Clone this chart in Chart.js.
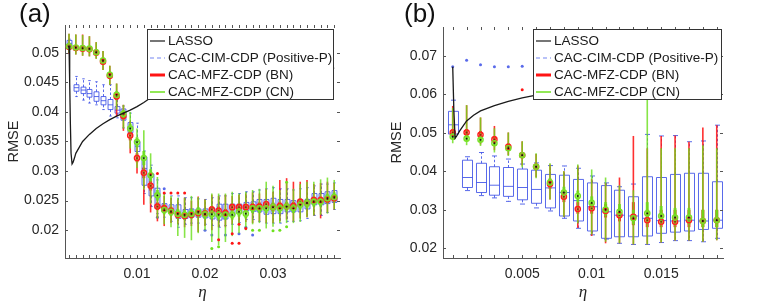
<!DOCTYPE html>
<html>
<head>
<meta charset="utf-8">
<script src="https://cdn.jsdelivr.net/npm/chart.js@4.4.1/dist/chart.umd.min.js"></script>
<style>
  body { margin: 0; background: #fff; width: 763px; height: 304px; position: relative; overflow: hidden; font-family: "Liberation Sans", Arial, sans-serif; }
  .panel { position: absolute; top: 0; }
  .panel canvas { display: block; }
  .tag { position: absolute; top: -2px; font-size: 26px; color: #111; }
</style>
</head>
<body>
<div class="panel" style="left:0"><canvas id="chartA" width="380" height="304"></canvas></div>
<div class="panel" style="left:380px"><canvas id="chartB" width="383" height="304"></canvas></div>
<div class="tag" style="left:19px">(a)</div>
<div class="tag" style="left:404px">(b)</div>
<script>
// ---- data ----
const legendLabels = ['LASSO', 'CAC-CIM-CDP (Positive-P)', 'CAC-MFZ-CDP (BN)', 'CAC-MFZ-CDP (CN)'];

// panel (a): eta positions of the boxes
const etaA = [0.000, 0.001, 0.002, 0.003, 0.004, 0.005, 0.006, 0.007, 0.008, 0.009,
              0.010, 0.011, 0.012, 0.013, 0.014, 0.015, 0.016, 0.017, 0.018, 0.019,
              0.020, 0.021, 0.022, 0.023, 0.024, 0.025, 0.026, 0.027, 0.028, 0.029,
              0.030, 0.031, 0.032, 0.033, 0.034, 0.035, 0.036, 0.037, 0.038, 0.039];

// rows: [lower whisker, q1, median, q3, upper whisker]
const cimA = [
  [0.0508,0.0511,0.0516,0.0521,0.0523],[0.0426,0.0435,0.0441,0.0446,0.0460],[0.0420,0.0431,0.0437,0.0442,0.0456],
  [0.0415,0.0425,0.0431,0.0438,0.0453],[0.0412,0.0418,0.0426,0.0434,0.0451],[0.0404,0.0412,0.0419,0.0426,0.0446],
  [0.0393,0.0404,0.0412,0.0421,0.0446],[0.0390,0.0398,0.0403,0.0409,0.0430],[0.0373,0.0386,0.0396,0.0405,0.0410],
  [0.0353,0.0365,0.0373,0.0382,0.0398],[0.0319,0.0333,0.0342,0.0350,0.0381],[0.0262,0.0276,0.0304,0.0324,0.0334],
  [0.0240,0.0258,0.0272,0.0295,0.0310],[0.0228,0.0237,0.0255,0.0271,0.0285],[0.0222,0.0231,0.0238,0.0245,0.0262],
  [0.0215,0.0228,0.0234,0.0243,0.0258],[0.0205,0.0220,0.0230,0.0243,0.0258],[0.0210,0.0220,0.0228,0.0235,0.0255],
  [0.0212,0.0222,0.0229,0.0236,0.0255],[0.0212,0.0222,0.0231,0.0236,0.0253],[0.0210,0.0221,0.0229,0.0236,0.0252],
  [0.0208,0.0219,0.0232,0.0237,0.0255],[0.0205,0.0217,0.0230,0.0244,0.0258],[0.0208,0.0219,0.0230,0.0244,0.0258],
  [0.0210,0.0225,0.0235,0.0244,0.0262],[0.0213,0.0229,0.0238,0.0244,0.0262],[0.0218,0.0233,0.0239,0.0247,0.0265],
  [0.0218,0.0232,0.0237,0.0248,0.0265],[0.0215,0.0231,0.0239,0.0252,0.0268],[0.0212,0.0227,0.0240,0.0252,0.0270],
  [0.0212,0.0228,0.0240,0.0254,0.0272],[0.0212,0.0228,0.0240,0.0252,0.0270],[0.0215,0.0231,0.0240,0.0252,0.0270],
  [0.0215,0.0231,0.0240,0.0250,0.0268],[0.0216,0.0231,0.0243,0.0252,0.0270],[0.0220,0.0236,0.0245,0.0252,0.0272],
  [0.0225,0.0243,0.0250,0.0262,0.0275],[0.0225,0.0243,0.0250,0.0262,0.0278],[0.0230,0.0245,0.0253,0.0265,0.0278],
  [0.0235,0.0247,0.0255,0.0267,0.0280]
];
const bnA = [
  [0.0498,0.0506,0.0510,0.0514,0.0532],[0.0497,0.0504,0.0508,0.0513,0.0531],[0.0495,0.0503,0.0507,0.0512,0.0531],
  [0.0494,0.0502,0.0506,0.0511,0.0528],[0.0490,0.0496,0.0500,0.0505,0.0518],[0.0471,0.0480,0.0485,0.0490,0.0503],
  [0.0446,0.0456,0.0461,0.0466,0.0478],[0.0392,0.0420,0.0426,0.0432,0.0448],[0.0368,0.0387,0.0393,0.0400,0.0412],
  [0.0330,0.0352,0.0360,0.0368,0.0385],[0.0296,0.0315,0.0322,0.0330,0.0345],[0.0243,0.0288,0.0297,0.0306,0.0320],
  [0.0230,0.0267,0.0275,0.0283,0.0296],[0.0215,0.0234,0.0240,0.0247,0.0260],[0.0207,0.0230,0.0237,0.0244,0.0258],
  [0.0212,0.0227,0.0233,0.0240,0.0255],[0.0210,0.0220,0.0226,0.0233,0.0252],[0.0205,0.0218,0.0224,0.0231,0.0255],
  [0.0207,0.0220,0.0226,0.0232,0.0250],[0.0197,0.0222,0.0229,0.0236,0.0257],[0.0207,0.0222,0.0228,0.0234,0.0252],
  [0.0200,0.0228,0.0235,0.0241,0.0260],[0.0205,0.0227,0.0233,0.0240,0.0258],[0.0205,0.0223,0.0229,0.0236,0.0260],
  [0.0210,0.0232,0.0239,0.0245,0.0258],[0.0213,0.0233,0.0239,0.0245,0.0260],[0.0214,0.0233,0.0239,0.0245,0.0262],
  [0.0212,0.0233,0.0239,0.0246,0.0264],[0.0215,0.0234,0.0240,0.0247,0.0262],[0.0212,0.0237,0.0244,0.0250,0.0270],
  [0.0212,0.0233,0.0239,0.0246,0.0265],[0.0215,0.0234,0.0241,0.0248,0.0285],[0.0218,0.0234,0.0240,0.0247,0.0288],
  [0.0215,0.0235,0.0241,0.0248,0.0282],[0.0220,0.0241,0.0248,0.0254,0.0282],[0.0222,0.0240,0.0246,0.0252,0.0285],
  [0.0225,0.0245,0.0251,0.0257,0.0278],[0.0220,0.0245,0.0251,0.0257,0.0280],[0.0230,0.0246,0.0252,0.0258,0.0282],
  [0.0235,0.0248,0.0254,0.0260,0.0280]
];
const cnA = [
  [0.0500,0.0507,0.0511,0.0515,0.0532],[0.0497,0.0505,0.0509,0.0513,0.0531],[0.0495,0.0504,0.0508,0.0512,0.0530],
  [0.0494,0.0503,0.0507,0.0511,0.0528],[0.0490,0.0497,0.0501,0.0506,0.0518],[0.0471,0.0482,0.0487,0.0492,0.0503],
  [0.0446,0.0458,0.0463,0.0468,0.0478],[0.0404,0.0423,0.0429,0.0435,0.0448],[0.0372,0.0390,0.0397,0.0403,0.0412],
  [0.0338,0.0364,0.0372,0.0380,0.0400],[0.0305,0.0340,0.0349,0.0357,0.0372],[0.0269,0.0310,0.0322,0.0334,0.0369],
  [0.0245,0.0283,0.0293,0.0303,0.0330],[0.0220,0.0250,0.0259,0.0268,0.0290],[0.0210,0.0227,0.0234,0.0241,0.0262],
  [0.0205,0.0224,0.0231,0.0238,0.0258],[0.0190,0.0220,0.0228,0.0236,0.0255],[0.0187,0.0218,0.0226,0.0234,0.0255],
  [0.0183,0.0220,0.0228,0.0236,0.0258],[0.0195,0.0223,0.0231,0.0239,0.0256],[0.0200,0.0219,0.0227,0.0235,0.0252],
  [0.0180,0.0219,0.0227,0.0235,0.0262],[0.0175,0.0218,0.0226,0.0234,0.0262],[0.0180,0.0218,0.0226,0.0234,0.0262],
  [0.0190,0.0218,0.0226,0.0234,0.0265],[0.0195,0.0223,0.0231,0.0239,0.0262],[0.0200,0.0220,0.0228,0.0236,0.0265],
  [0.0210,0.0229,0.0237,0.0245,0.0268],[0.0212,0.0229,0.0237,0.0245,0.0270],[0.0203,0.0229,0.0237,0.0245,0.0282],
  [0.0206,0.0231,0.0239,0.0247,0.0275],[0.0212,0.0229,0.0237,0.0245,0.0268],[0.0212,0.0232,0.0240,0.0248,0.0279],
  [0.0212,0.0229,0.0237,0.0245,0.0270],[0.0214,0.0235,0.0243,0.0251,0.0278],[0.0222,0.0238,0.0246,0.0254,0.0282],
  [0.0225,0.0240,0.0248,0.0256,0.0282],[0.0226,0.0240,0.0248,0.0256,0.0286],[0.0228,0.0246,0.0254,0.0262,0.0289],
  [0.0235,0.0248,0.0256,0.0264,0.0285]
];
// outliers: [eta, rmse]
const cimOutA = [[0.013,0.0222],[0.014,0.0270],[0.020,0.0200],[0.021,0.0192],[0.023,0.0192],[0.025,0.0194],[0.026,0.0205],[0.027,0.0192]];
const bnOutA = [[0.012,0.0296],[0.013,0.0296],[0.014,0.0263],[0.015,0.0263],[0.016,0.0263],[0.017,0.0263],
                [0.022,0.0184],[0.024,0.0194],[0.024,0.0178],[0.025,0.0178],[0.025,0.0210],[0.026,0.0203]];
const cnOutA = [[0.021,0.0169],[0.022,0.0172],[0.027,0.0200],[0.028,0.0200],[0.030,0.0199],[0.031,0.0200],
                [0.032,0.0206],[0.032,0.0281],[0.035,0.0240]];
const lassoEtaA  = [0, 0.0001, 0.0002, 0.0003, 0.00045, 0.0006, 0.0008, 0.001, 0.0015, 0.002, 0.003, 0.004, 0.005,
                    0.006, 0.007, 0.008, 0.009, 0.010, 0.011, 0.012, 0.015, 0.020, 0.025, 0.030, 0.035, 0.039];
const lassoRmseA = [0.0512, 0.0450, 0.0380, 0.0330, 0.0312, 0.0315, 0.0322, 0.0330, 0.0340, 0.0350, 0.0362, 0.0372, 0.0380,
                    0.0387, 0.0393, 0.0398, 0.0403, 0.0409, 0.0416, 0.0424, 0.0436, 0.0448, 0.0457, 0.0464, 0.0470, 0.0474];

// panel (b)
const etaB = [0.000, 0.001, 0.002, 0.003, 0.004, 0.005, 0.006, 0.007, 0.008, 0.009,
              0.010, 0.011, 0.012, 0.013, 0.014, 0.015, 0.016, 0.017, 0.018, 0.019];
const cimB = [
  [0.0490,0.0497,0.0521,0.0556,0.0585],[0.0350,0.0358,0.0384,0.0429,0.0438],[0.0337,0.0345,0.0371,0.0421,0.0449],
  [0.0331,0.0338,0.0364,0.0412,0.0440],[0.0322,0.0335,0.0361,0.0410,0.0432],[0.0315,0.0326,0.0358,0.0406,0.0419],
  [0.0305,0.0317,0.0353,0.0403,0.0422],[0.0297,0.0305,0.0357,0.0392,0.0415],[0.0278,0.0284,0.0345,0.0390,0.0414],
  [0.0252,0.0271,0.0324,0.0379,0.0408],[0.0235,0.0245,0.0308,0.0370,0.0388],[0.0224,0.0226,0.0295,0.0363,0.0370],
  [0.0213,0.0230,0.0286,0.0351,0.0360],[0.0210,0.0230,0.0284,0.0334,0.0367],[0.0210,0.0232,0.0278,0.0386,0.0496],
  [0.0215,0.0239,0.0272,0.0384,0.0492],[0.0220,0.0242,0.0271,0.0392,0.0493],[0.0220,0.0245,0.0273,0.0395,0.0477],
  [0.0217,0.0249,0.0271,0.0395,0.0479],[0.0226,0.0252,0.0273,0.0373,0.0520]
];
const bnB = [
  [0.0482,0.0494,0.0501,0.0510,0.0570],[0.0485,0.0495,0.0501,0.0510,0.0572],[0.0470,0.0489,0.0495,0.0505,0.0540],
  [0.0455,0.0476,0.0483,0.0492,0.0518],[0.0442,0.0457,0.0464,0.0473,0.0501],[0.0415,0.0435,0.0442,0.0450,0.0478],
  [0.0385,0.0405,0.0412,0.0420,0.0445],[0.0327,0.0355,0.0367,0.0380,0.0418],[0.0282,0.0320,0.0334,0.0350,0.0400],
  [0.0253,0.0290,0.0302,0.0320,0.0415],[0.0232,0.0290,0.0304,0.0318,0.0380],[0.0213,0.0280,0.0297,0.0315,0.0370],
  [0.0213,0.0270,0.0286,0.0305,0.0384],[0.0210,0.0260,0.0282,0.0320,0.0492],[0.0210,0.0255,0.0273,0.0300,0.0460],
  [0.0215,0.0255,0.0269,0.0300,0.0492],[0.0220,0.0255,0.0269,0.0300,0.0493],[0.0220,0.0255,0.0273,0.0300,0.0477],
  [0.0217,0.0255,0.0271,0.0300,0.0514],[0.0221,0.0255,0.0273,0.0300,0.0520]
];
const cnB = [
  [0.0473,0.0484,0.0490,0.0500,0.0565],[0.0468,0.0478,0.0485,0.0495,0.0572],[0.0466,0.0476,0.0482,0.0490,0.0540],
  [0.0449,0.0466,0.0473,0.0481,0.0512],[0.0440,0.0453,0.0460,0.0468,0.0501],[0.0410,0.0435,0.0442,0.0450,0.0478],
  [0.0382,0.0405,0.0412,0.0420,0.0447],[0.0327,0.0360,0.0371,0.0382,0.0421],[0.0282,0.0330,0.0345,0.0360,0.0400],
  [0.0265,0.0320,0.0336,0.0350,0.0418],[0.0236,0.0300,0.0318,0.0335,0.0405],[0.0217,0.0285,0.0301,0.0320,0.0384],
  [0.0213,0.0280,0.0295,0.0315,0.0364],[0.0210,0.0262,0.0278,0.0300,0.0351],[0.0210,0.0270,0.0291,0.0320,0.0594],
  [0.0215,0.0265,0.0284,0.0310,0.0460],[0.0220,0.0262,0.0280,0.0305,0.0460],[0.0220,0.0262,0.0280,0.0305,0.0460],
  [0.0217,0.0255,0.0271,0.0300,0.0468],[0.0221,0.0255,0.0273,0.0300,0.0460]
];
const cimOutB = [[0.000,0.0672],[0.001,0.0689],[0.002,0.0677],[0.003,0.0672],[0.004,0.0672],[0.005,0.0673]];
const bnOutB = [[0.005,0.0612]];
const cnOutB = [];
const lassoEtaB  = [0, 0.00008, 0.00017, 0.0003, 0.0005, 0.001, 0.0015, 0.002, 0.003, 0.004, 0.005, 0.006,
                    0.008, 0.010, 0.013, 0.016, 0.019];
const lassoRmseB = [0.0672, 0.0560, 0.0486, 0.0493, 0.0505, 0.0531, 0.0546, 0.0557, 0.0571, 0.0582, 0.0591, 0.0598,
                    0.0608, 0.0616, 0.0625, 0.0632, 0.0638];

// ---- drawing ----
const FONT = '"Liberation Sans", Arial, sans-serif';
const BLUE = 'rgba(60,80,230,0.85)';
const RED = 'rgba(255,25,25,0.9)';
const GREEN = 'rgba(105,222,25,0.8)';
const legendStyles = [
  { color: '#1a1a1a', width: 1.2 },
  { color: 'rgba(100,120,240,0.9)', width: 1.2, dash: [4, 3] },
  { color: 'rgb(255,20,20)', width: 3 },
  { color: 'rgb(110,225,30)', width: 1.5 }
];

function dot(ctx, px, py, r, color) {
  ctx.fillStyle = color;
  ctx.beginPath(); ctx.arc(px, py, r, 0, Math.PI * 2); ctx.fill();
}

const boxes = {
  id: 'boxes',
  beforeDatasetsDraw(chart, args, o) {
    const { ctx, chartArea: a, scales: { x, y } } = chart;
    const half = x.getPixelForValue(o.halfWidth) - x.getPixelForValue(0);
    ctx.save();
    ctx.beginPath(); ctx.rect(a.left, a.top, a.width, a.height); ctx.clip();

    // classic boxes (Positive-P)
    ctx.strokeStyle = BLUE;
    o.eta.forEach((e, i) => {
      const [lo, q1, md, q3, hi] = o.cim[i];
      const px = Math.round(x.getPixelForValue(e)) + 0.5;
      const yq1 = y.getPixelForValue(q1), yq3 = y.getPixelForValue(q3);
      ctx.lineWidth = 1;
      ctx.setLineDash([2.5, 2]);
      ctx.beginPath();
      ctx.moveTo(px, yq3); ctx.lineTo(px, y.getPixelForValue(hi));
      ctx.moveTo(px, yq1); ctx.lineTo(px, y.getPixelForValue(lo));
      ctx.stroke();
      ctx.setLineDash([]);
      ctx.beginPath();
      [lo, hi].forEach(v => { const py = y.getPixelForValue(v); ctx.moveTo(px - half / 2, py); ctx.lineTo(px + half / 2, py); });
      const pm = y.getPixelForValue(md);
      ctx.moveTo(px - half, pm); ctx.lineTo(px + half, pm);
      ctx.rect(px - half, yq3, 2 * half, yq1 - yq3);
      ctx.stroke();
    });
    o.cimOut.forEach(([e, v]) => dot(ctx, x.getPixelForValue(e), y.getPixelForValue(v), 1.5, BLUE));

    // compact boxes (BN, CN)
    const compact = (rows, color) => {
      ctx.strokeStyle = color;
      o.eta.forEach((e, i) => {
        const [lo, q1, md, q3, hi] = rows[i];
        const px = x.getPixelForValue(e);
        ctx.lineWidth = 1.6;
        ctx.beginPath(); ctx.moveTo(px, y.getPixelForValue(lo)); ctx.lineTo(px, y.getPixelForValue(hi)); ctx.stroke();
        ctx.lineWidth = 3;
        ctx.beginPath(); ctx.moveTo(px, y.getPixelForValue(q1)); ctx.lineTo(px, y.getPixelForValue(q3)); ctx.stroke();
      });
    };
    compact(o.bn, RED);
    compact(o.cn, GREEN);
    o.bnOut.forEach(([e, v]) => dot(ctx, x.getPixelForValue(e), y.getPixelForValue(v), 1.5, 'rgb(255,20,20)'));
    o.cnOut.forEach(([e, v]) => dot(ctx, x.getPixelForValue(e), y.getPixelForValue(v), 1.5, 'rgb(110,225,30)'));

    const medians = (rows, ring, centre) => {
      o.eta.forEach((e, i) => {
        const px = x.getPixelForValue(e), py = y.getPixelForValue(rows[i][2]);
        ctx.strokeStyle = ring; ctx.lineWidth = 1.4;
        ctx.beginPath(); ctx.arc(px, py, 2.6, 0, Math.PI * 2); ctx.stroke();
        dot(ctx, px, py, 0.9, centre);
      });
    };
    medians(o.bn, 'rgb(255,30,30)', '#a01010');
    medians(o.cn, 'rgb(120,225,40)', '#111');
    ctx.restore();
  }
};

const frame = {
  id: 'frame',
  afterDatasetsDraw(chart, args, o) {
    const { ctx, chartArea: a, scales: { x, y } } = chart;
    ctx.save();
    ctx.strokeStyle = '#555'; ctx.lineWidth = 1;
    ctx.beginPath();
    o.eta.forEach(e => {
      const px = Math.round(x.getPixelForValue(e)) + 0.5;
      ctx.moveTo(px, a.bottom); ctx.lineTo(px, a.bottom - 3);
      ctx.moveTo(px, a.top); ctx.lineTo(px, a.top + 3);
    });
    y.ticks.forEach(t => {
      const py = Math.round(y.getPixelForValue(t.value)) + 0.5;
      ctx.moveTo(a.left, py); ctx.lineTo(a.left + 3, py);
      ctx.moveTo(a.right, py); ctx.lineTo(a.right - 3, py);
    });
    ctx.stroke();
    ctx.restore();
  }
};

const legendBox = {
  id: 'legendBox',
  afterDatasetsDraw(chart, args, o) {
    const { ctx, chartArea: a } = chart;
    const L = a.left + o.left, T = a.top + o.top, R = a.right - o.right, H = o.height;
    ctx.save();
    ctx.fillStyle = '#fff';
    ctx.fillRect(L, T, R - L, H);
    ctx.strokeStyle = '#333'; ctx.lineWidth = 1;
    ctx.strokeRect(Math.round(L) + 0.5, Math.round(T) + 0.5, Math.round(R - L) - 1, H - 1);
    ctx.font = '13.5px ' + FONT;
    ctx.textBaseline = 'middle';
    legendLabels.forEach((lab, k) => {
      const yy = T + 12 + 17 * k;
      const st = legendStyles[k];
      ctx.strokeStyle = st.color; ctx.lineWidth = st.width; ctx.setLineDash(st.dash || []);
      ctx.beginPath(); ctx.moveTo(L + 3, yy); ctx.lineTo(L + 18, yy); ctx.stroke();
      ctx.setLineDash([]);
      ctx.fillStyle = '#1a1a1a';
      ctx.fillText(lab, L + 21, yy);
    });
    ctx.restore();
  }
};

function panel(id, p) {
  return new Chart(document.getElementById(id), {
    type: 'scatter',
    data: {
      datasets: [{
        label: legendLabels[0],
        data: p.lassoEta.map((e, i) => ({ x: e, y: p.lassoRmse[i] })),
        showLine: true, borderColor: '#1a1a1a', borderWidth: 1.3, pointRadius: 0, tension: 0
      }]
    },
    options: {
      responsive: false, animation: false, devicePixelRatio: 1,
      layout: { padding: { top: p.top, right: 40, left: 0, bottom: 0 } },
      plugins: {
        legend: { display: false }, tooltip: { enabled: false },
        boxes: { eta: p.eta, cim: p.cim, bn: p.bn, cn: p.cn, cimOut: p.cimOut, bnOut: p.bnOut, cnOut: p.cnOut, halfWidth: 0.00036 },
        frame: { eta: p.eta },
        legendBox: p.legend
      },
      scales: {
        x: {
          type: 'linear', min: p.xMin, max: p.xMax,
          afterFit: s => { s.height = 46; },
          grid: { display: false, drawTicks: false },
          border: { display: true, color: '#555' },
          ticks: {
            stepSize: 0.001, autoSkip: false, maxRotation: 0, includeBounds: false, padding: 8,
            color: '#262626', font: { size: 14, family: FONT },
            callback: v => { const k = Math.round(v * 1000); return (k > 0 && k % p.labelEvery === 0) ? String(k / 1000) : ''; }
          },
          title: { display: true, text: 'η', color: '#262626', font: { size: 17, family: '"Liberation Serif", "DejaVu Serif", serif', style: 'italic', lineHeight: 1 }, padding: { top: 0, bottom: 3 } }
        },
        y: {
          min: p.yMin, max: p.yMax,
          afterFit: s => { s.width = p.yWidth; },
          grid: { display: false, drawTicks: false },
          border: { display: true, color: '#555' },
          ticks: {
            stepSize: p.yStep, includeBounds: false, padding: 6,
            color: '#262626', font: { size: 14, family: FONT },
            callback: v => String(Math.round(v * 10000) / 10000)
          },
          title: { display: true, text: 'RMSE', color: '#262626', font: { size: 14.5, family: FONT }, padding: { top: p.titlePad, bottom: 0 } }
        }
      }
    },
    plugins: [boxes, frame, legendBox]
  });
}

panel('chartA', {
  eta: etaA, cim: cimA, bn: bnA, cn: cnA, cimOut: cimOutA, bnOut: bnOutA, cnOut: cnOutA,
  lassoEta: lassoEtaA, lassoRmse: lassoRmseA,
  xMin: -0.00059, xMax: 0.03985, yMin: 0.0153, yMax: 0.0547, yStep: 0.005,
  labelEvery: 10, top: 25, yWidth: 65, titlePad: 5,
  legend: { left: 82, top: 4, right: 6, height: 71 }
});
panel('chartB', {
  eta: etaB, cim: cimB, bn: bnB, cn: cnB, cimOut: cimOutB, bnOut: bnOutB, cnOut: cnOutB,
  lassoEta: lassoEtaB, lassoRmse: lassoRmseB,
  xMin: -0.0007, xMax: 0.01945, yMin: 0.01748, yMax: 0.07752, yStep: 0.01,
  labelEvery: 5, top: 27, yWidth: 63, titlePad: 8,
  legend: { left: 90, top: 2, right: 1.5, height: 71 }
});
</script>
</body>
</html>
